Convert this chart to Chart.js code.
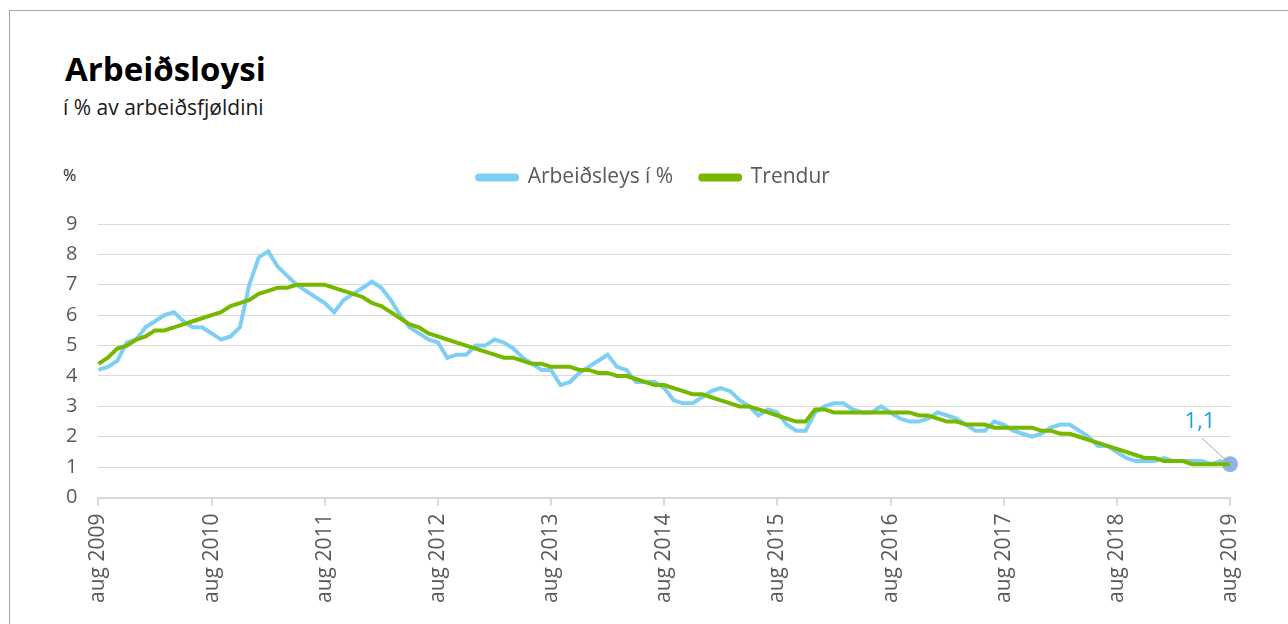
<!DOCTYPE html>
<html>
<head>
<meta charset="utf-8">
<script src="https://cdn.jsdelivr.net/npm/chart.js@4.4.1/dist/chart.umd.min.js"></script>
<style>
  body { margin: 0; background: #fff; font-family: "Open Sans", sans-serif; overflow: hidden; }
  #frame { position: absolute; left: 9px; top: 10px; width: 1300px; height: 700px;
           border-top: 1px solid #a6a6a6; border-left: 1px solid #a6a6a6; }
  .txt { position: absolute; white-space: nowrap; line-height: 1; }
  #title { left: 65px; top: 52px; font-size: 33px; font-weight: 700; color: #000; }
  #subtitle { left: 63px; top: 97px; font-size: 21px; color: #1a1a1a; }
  #unit { left: 63px; top: 167px; font-size: 16px; color: #1a1a1a; }
  #wrap { position: absolute; left: 0; top: 140px; width: 1288px; height: 484px; }
</style>
</head>
<body>
<div id="frame"></div>
<div id="title" class="txt">Arbeiðsloysi</div>
<div id="subtitle" class="txt">í % av arbeiðsfjøldini</div>
<div id="unit" class="txt">%</div>
<div id="wrap"><canvas id="chart"></canvas></div>
<script>
const monthNames = ["jan", "feb", "mar", "apr", "mai", "jun", "jul", "aug", "sep", "okt", "nov", "des"];

// aug 2009 .. aug 2019, one label per month
const months = [];
for (let i = 0; i < 121; i++) {
  months.push(monthNames[(7 + i) % 12] + " " + (2009 + Math.floor((7 + i) / 12)));
}

const unemployment = [
  4.2, 4.3, 4.5, 5.1, 5.2, 5.6, 5.8, 6.0, 6.1, 5.8, 5.6, 5.6,
  5.4, 5.2, 5.3, 5.6, 7.0, 7.9, 8.1, 7.6, 7.3, 7.0, 6.8, 6.6,
  6.4, 6.1, 6.5, 6.7, 6.9, 7.1, 6.9, 6.5, 6.0, 5.6, 5.4, 5.2,
  5.1, 4.6, 4.7, 4.7, 5.0, 5.0, 5.2, 5.1, 4.9, 4.6, 4.4, 4.2,
  4.2, 3.7, 3.8, 4.1, 4.3, 4.5, 4.7, 4.3, 4.2, 3.8, 3.8, 3.8,
  3.6, 3.2, 3.1, 3.1, 3.3, 3.5, 3.6, 3.5, 3.2, 3.0, 2.7, 2.9,
  2.8, 2.4, 2.2, 2.2, 2.8, 3.0, 3.1, 3.1, 2.9, 2.8, 2.8, 3.0,
  2.8, 2.6, 2.5, 2.5, 2.6, 2.8, 2.7, 2.6, 2.4, 2.2, 2.2, 2.5,
  2.4, 2.2, 2.1, 2.0, 2.1, 2.3, 2.4, 2.4, 2.2, 2.0, 1.7, 1.7,
  1.5, 1.3, 1.2, 1.2, 1.2, 1.3, 1.2, 1.2, 1.2, 1.2, 1.1, 1.2,
  1.1
];

const trend = [
  4.4, 4.6, 4.9, 5.0, 5.2, 5.3, 5.5, 5.5, 5.6, 5.7, 5.8, 5.9,
  6.0, 6.1, 6.3, 6.4, 6.5, 6.7, 6.8, 6.9, 6.9, 7.0, 7.0, 7.0,
  7.0, 6.9, 6.8, 6.7, 6.6, 6.4, 6.3, 6.1, 5.9, 5.7, 5.6, 5.4,
  5.3, 5.2, 5.1, 5.0, 4.9, 4.8, 4.7, 4.6, 4.6, 4.5, 4.4, 4.4,
  4.3, 4.3, 4.3, 4.2, 4.2, 4.1, 4.1, 4.0, 4.0, 3.9, 3.8, 3.7,
  3.7, 3.6, 3.5, 3.4, 3.4, 3.3, 3.2, 3.1, 3.0, 3.0, 2.9, 2.8,
  2.7, 2.6, 2.5, 2.5, 2.9, 2.9, 2.8, 2.8, 2.8, 2.8, 2.8, 2.8,
  2.8, 2.8, 2.8, 2.7, 2.7, 2.6, 2.5, 2.5, 2.4, 2.4, 2.4, 2.3,
  2.3, 2.3, 2.3, 2.3, 2.2, 2.2, 2.1, 2.1, 2.0, 1.9, 1.8, 1.7,
  1.6, 1.5, 1.4, 1.3, 1.3, 1.2, 1.2, 1.2, 1.1, 1.1, 1.1, 1.1,
  1.1
];

const seriesNames = ["Arbeiðsleys í %", "Trendur"];

const blue = "#7fcff4";
const green = "#76b800";
const lastIndex = unemployment.length - 1;

// legend sits higher than chart.js would put it, so force its box height
const legendHeight = {
  id: "legendHeight",
  beforeInit(chart) {
    const fit = chart.legend.fit;
    chart.legend.fit = function () {
      fit.bind(chart.legend)();
      this.height = 84;
    };
  },
  afterLayout(chart) {
    // nudge legend a bit right, like the original
    chart.legend.left += 16;
    chart.legend.right += 16;
  }
};

// "1,1" callout on the last value
const lastLabel = {
  id: "lastLabel",
  afterDatasetsDraw(chart) {
    const pt = chart.getDatasetMeta(0).data[lastIndex];
    const ctx = chart.ctx;
    ctx.save();
    ctx.strokeStyle = "#a6a6a6";
    ctx.lineWidth = 1;
    ctx.beginPath();
    ctx.moveTo(pt.x - 28, pt.y - 26);
    ctx.lineTo(pt.x, pt.y);
    ctx.stroke();
    ctx.fillStyle = "#1ba1dd";
    ctx.font = '22px "Open Sans"';
    ctx.textAlign = "center";
    ctx.textBaseline = "alphabetic";
    ctx.fillText(String(unemployment[lastIndex]).replace(".", ","), pt.x - 30, pt.y - 36);
    ctx.restore();
  }
};

new Chart(document.getElementById("chart"), {
  type: "line",
  data: {
    labels: months,
    datasets: [
      {
        label: seriesNames[0],
        data: unemployment,
        borderColor: blue,
        backgroundColor: blue,
        borderWidth: 4,
        order: 1,
        pointRadius: (c) => (c.dataIndex === lastIndex ? 8 : 0),
        pointBackgroundColor: "#8db4e2",
        pointBorderWidth: 0,
        pointHoverRadius: 0
      },
      {
        label: seriesNames[1],
        data: trend,
        borderColor: green,
        backgroundColor: green,
        borderWidth: 4,
        order: 0,
        pointRadius: 0
      }
    ]
  },
  options: {
    responsive: true,
    maintainAspectRatio: false,
    animation: false,
    layout: { padding: { left: 45, right: 58, top: 0, bottom: 13 } },
    plugins: {
      tooltip: { enabled: false },
      legend: {
        position: "top",
        reverse: true,
        labels: {
          boxWidth: 40,
          boxHeight: 4,
          useBorderRadius: true,
          borderRadius: 2,
          padding: 27,
          color: "#595959",
          font: { family: "Open Sans", size: 21 }
        }
      }
    },
    scales: {
      x: {
        border: { color: "#d9d9d9", width: 2 },
        grid: {
          drawOnChartArea: false,
          tickLength: 8,
          color: (c) => (c.index % 12 === 0 ? "#d9d9d9" : "rgba(0,0,0,0)"),
          lineWidth: 2
        },
        ticks: {
          autoSkip: false,
          minRotation: 90,
          maxRotation: 90,
          padding: 8,
          color: "#595959",
          font: { family: "Open Sans", size: 21 },
          callback: (v, i) => (i % 12 === 0 ? months[i] : "")
        }
      },
      y: {
        min: 0,
        max: 9,
        border: { display: false },
        grid: { color: "#d9d9d9", lineWidth: 1, drawTicks: false },
        ticks: {
          stepSize: 1,
          padding: 21,
          color: "#595959",
          font: { family: "Open Sans", size: 20 }
        }
      }
    }
  },
  plugins: [legendHeight, lastLabel]
});
</script>
</body>
</html>
